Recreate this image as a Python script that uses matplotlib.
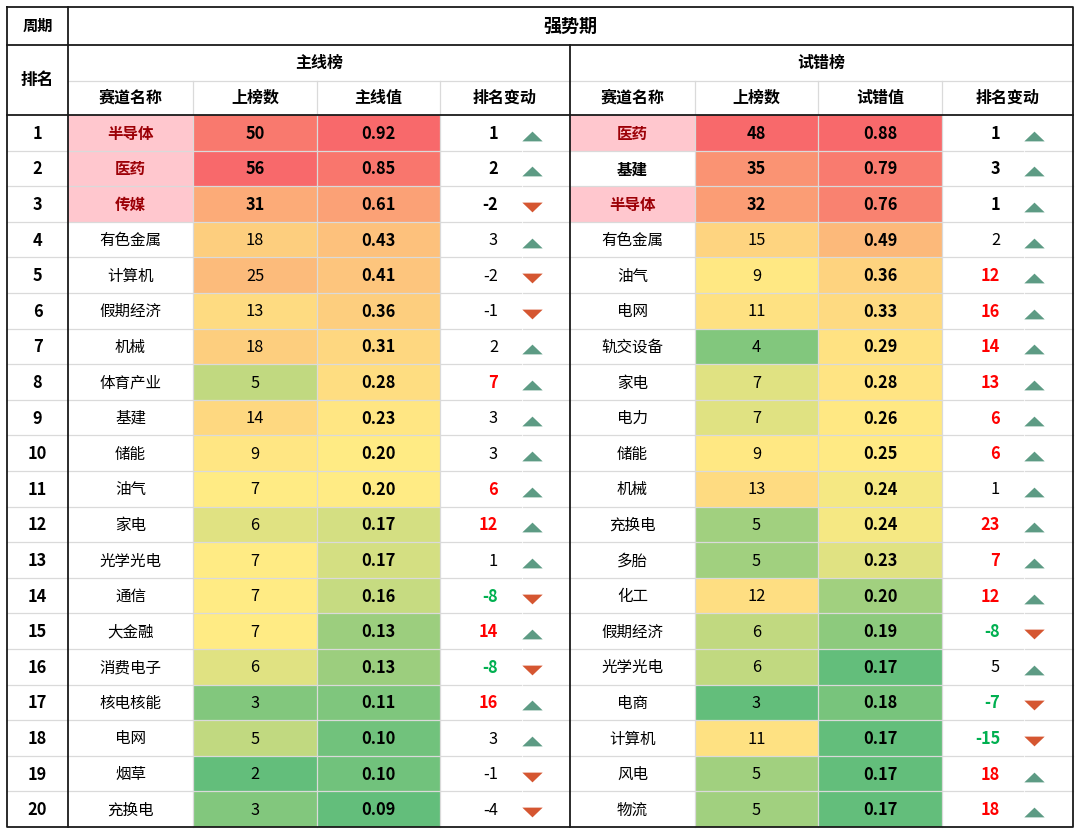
import numpy as np
import matplotlib
matplotlib.use("Agg")
import matplotlib.pyplot as plt
from matplotlib.patches import Rectangle
from matplotlib.path import Path as MPath

plt.rcParams["font.family"] = ["Noto Sans CJK SC", "DejaVu Sans"]

# ---- data -------------------------------------------------------------
ranks = list(range(1, 21))

main_names = ["半导体", "医药", "传媒", "有色金属", "计算机", "假期经济", "机械", "体育产业",
              "基建", "储能", "油气", "家电", "光学光电", "通信", "大金融", "消费电子",
              "核电核能", "电网", "烟草", "充换电"]
main_counts = [50, 56, 31, 18, 25, 13, 18, 5, 14, 9, 7, 6, 7, 7, 7, 6, 3, 5, 2, 3]
main_vals = [0.92, 0.85, 0.61, 0.43, 0.41, 0.36, 0.31, 0.28, 0.23, 0.20, 0.20, 0.17,
             0.17, 0.16, 0.13, 0.13, 0.11, 0.10, 0.10, 0.09]
main_chg = [1, 2, -2, 3, -2, -1, 2, 7, 3, 3, 6, 12, 1, -8, 14, -8, 16, 3, -1, -4]
main_hl = [True, True, True] + [False] * 17

trial_names = ["医药", "基建", "半导体", "有色金属", "油气", "电网", "轨交设备", "家电", "电力",
               "储能", "机械", "充换电", "多胎", "化工", "假期经济", "光学光电", "电商",
               "计算机", "风电", "物流"]
trial_counts = [48, 35, 32, 15, 9, 11, 4, 7, 7, 9, 13, 5, 5, 12, 6, 6, 3, 11, 5, 5]
trial_vals = [0.88, 0.79, 0.76, 0.49, 0.36, 0.33, 0.29, 0.28, 0.26, 0.25, 0.24, 0.24,
              0.23, 0.20, 0.19, 0.17, 0.18, 0.17, 0.17, 0.17]
trial_chg = [1, 3, 1, 2, 12, 16, 14, 13, 6, 6, 1, 23, 7, 12, -8, 5, -7, -15, 18, 18]
trial_hl = [True, False, True] + [False] * 17

# ---- style ------------------------------------------------------------
W, H = 1080, 836
GREEN = np.array([0x63, 0xBE, 0x7B]) / 255
YELLOW = np.array([0xFF, 0xEB, 0x84]) / 255
RED = np.array([0xF8, 0x69, 0x6B]) / 255
PINK = "#FFC7CE"
DARKRED = "#9C0006"
GRID = "#DADADA"
UP = "#5D9B84"
DOWN = "#D55631"
FS_TXT = 11.2
FS_NUM = 11.8

X0, X1 = 7, 1073
Y_TOP, Y_H1, Y_H2, Y_DATA, Y_BOT = 7, 45, 81, 115, 827
RANK_R = 68
MAIN_COLS = [68, 193, 317, 440, 570]
TRIAL_COLS = [570, 695, 818, 942, 1073]
ROW_H = (Y_BOT - Y_DATA) / 20

tri_up = MPath([(-1, -0.48), (1, -0.48), (0, 0.48), (-1, -0.48)])
tri_dn = MPath([(-1, 0.48), (1, 0.48), (0, -0.48), (-1, 0.48)])


def excel_scale(vals):
    v = np.asarray(vals, dtype=float)
    lo, mid, hi = v.min(), np.percentile(v, 50), v.max()
    out = []
    for x in v:
        if x <= mid:
            t = 0 if mid == lo else (x - lo) / (mid - lo)
            out.append(GREEN + t * (YELLOW - GREEN))
        else:
            t = (x - mid) / (hi - mid)
            out.append(YELLOW + t * (RED - YELLOW))
    return out


def row_y(i):
    return Y_DATA + ROW_H * (i + 0.5)


def draw_block(ax, cols, names, counts, vals, chg, hl, title, val_label):
    cnt_c = excel_scale(counts)
    val_c = excel_scale(vals)
    for i in range(20):
        top = Y_DATA + ROW_H * i
        if hl[i]:
            ax.add_patch(Rectangle((cols[0], top), cols[1] - cols[0], ROW_H,
                                   facecolor=PINK, edgecolor="none"))
        ax.add_patch(Rectangle((cols[1], top), cols[2] - cols[1], ROW_H,
                               facecolor=cnt_c[i], edgecolor="none"))
        ax.add_patch(Rectangle((cols[2], top), cols[3] - cols[2], ROW_H,
                               facecolor=val_c[i], edgecolor="none"))
        y = row_y(i) + 1
        top3 = i < 3
        ax.text((cols[0] + cols[1]) / 2, y, names[i], ha="center", va="center",
                fontsize=FS_TXT, color=DARKRED if hl[i] else "black",
                fontweight="bold" if top3 else "normal")
        ax.text((cols[1] + cols[2]) / 2, y, str(counts[i]), ha="center", va="center",
                fontsize=FS_NUM, fontweight="bold" if top3 else "normal")
        ax.text((cols[2] + cols[3]) / 2, y, f"{vals[i]:.2f}", ha="center", va="center",
                fontsize=FS_NUM, fontweight="bold")
        c = chg[i]
        if c > 5:
            col, fw = "#FF0000", "bold"
        elif c < -5:
            col, fw = "#00B050", "bold"
        else:
            col, fw = "black", "bold" if top3 else "normal"
        ax.text(cols[3] + 58, y, str(c), ha="right", va="center",
                fontsize=FS_NUM, color=col, fontweight=fw)
        ax.scatter([cols[3] + 92], [row_y(i) + 3], marker=tri_up if c > 0 else tri_dn,
                   s=215, color=UP if c > 0 else DOWN, linewidths=0, zorder=5)

    # light grid
    for i in range(1, 20):
        yy = Y_DATA + ROW_H * i
        ax.plot([cols[0], cols[3] + 81], [yy, yy], color=GRID, lw=0.9, zorder=3)
        ax.plot([cols[3] + 83, cols[4]], [yy, yy], color=GRID, lw=0.9, zorder=3)
    ax.plot([cols[0], cols[4]], [Y_H2, Y_H2], color=GRID, lw=0.9, zorder=3)
    for x in cols[1:4]:
        ax.plot([x, x], [Y_H2, Y_BOT], color=GRID, lw=0.9, zorder=3)

    # headers
    ax.text((cols[0] + cols[4]) / 2, (Y_H1 + Y_H2) / 2, title, ha="center",
            va="center", fontsize=11.5, fontweight="bold")
    labels = ["赛道名称", "上榜数", val_label, "排名变动"]
    for k, lab in enumerate(labels):
        ax.text((cols[k] + cols[k + 1]) / 2, (Y_H2 + Y_DATA) / 2, lab, ha="center",
                va="center", fontsize=11.5, fontweight="bold")


fig = plt.figure(figsize=(W / 100, H / 100), dpi=100)
ax = fig.add_axes([0, 0, 1, 1])
ax.set_xlim(0, W)
ax.set_ylim(H, 0)
ax.axis("off")
fig.patch.set_facecolor("white")

draw_block(ax, MAIN_COLS, main_names, main_counts, main_vals, main_chg, main_hl,
           "主线榜", "主线值")
draw_block(ax, TRIAL_COLS, trial_names, trial_counts, trial_vals, trial_chg, trial_hl,
           "试错榜", "试错值")

# rank column
for i, r in enumerate(ranks):
    ax.text((X0 + RANK_R) / 2, row_y(i) + 1, str(r), ha="center", va="center",
            fontsize=FS_NUM, fontweight="bold")
for i in range(1, 20):
    yy = Y_DATA + ROW_H * i
    ax.plot([X0, RANK_R], [yy, yy], color=GRID, lw=0.9, zorder=3)
ax.text((X0 + RANK_R) / 2, (Y_TOP + Y_H1) / 2, "周期", ha="center", va="center",
        fontsize=11, fontweight="bold")
ax.text((X0 + RANK_R) / 2, (Y_H1 + Y_DATA) / 2, "排名", ha="center", va="center",
        fontsize=12, fontweight="bold")
ax.text((RANK_R + X1) / 2, (Y_TOP + Y_H1) / 2, "强势期", ha="center", va="center",
        fontsize=13, fontweight="bold")

# heavy borders
K = dict(color="#1a1a1a", lw=1.3, zorder=6, solid_capstyle="projecting")
ax.plot([X0, X1, X1, X0, X0], [Y_TOP, Y_TOP, Y_BOT, Y_BOT, Y_TOP], **K)
ax.plot([X0, X1], [Y_H1, Y_H1], **K)
ax.plot([X0, X1], [Y_DATA, Y_DATA], **K)
ax.plot([RANK_R, RANK_R], [Y_TOP, Y_BOT], **K)
ax.plot([570, 570], [Y_H1, Y_BOT], **K)

fig.savefig("out.png", dpi=100, facecolor="white")
plt.close(fig)
